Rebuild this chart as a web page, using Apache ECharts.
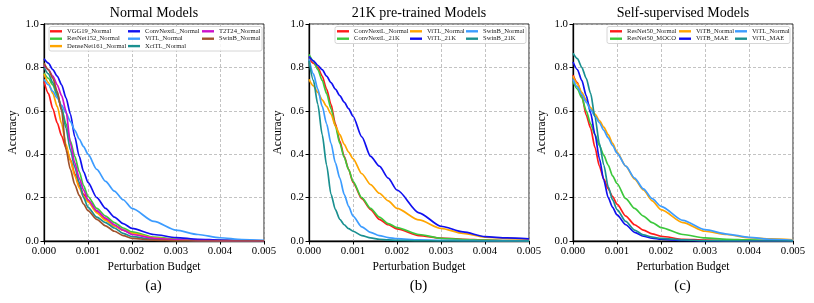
<!DOCTYPE html>
<html>
<head>
<meta charset="utf-8">
<script src="https://cdn.jsdelivr.net/npm/echarts@6/dist/echarts.min.js"></script>
<style>
html,body{margin:0;padding:0;background:#fff;}
#chart{width:814px;height:303px;}
</style>
</head>
<body>
<div id="chart"></div>
<script>
// ---- data ----
const budgets = [0, 0.0001, 0.0002, 0.0003, 0.0004, 0.0005, 0.0006, 0.0007, 0.0008, 0.0009, 0.001, 0.0012, 0.0014, 0.0016, 0.0018, 0.002, 0.0025, 0.003, 0.0035, 0.004, 0.0045, 0.005];
const xTicks = [0, 0.001, 0.002, 0.003, 0.004, 0.005];
const yTicks = [0, 0.2, 0.4, 0.6, 0.8, 1.0];
const panelTitles = ['Normal Models', '21K pre-trained Models', 'Self-supervised Models'];
const panelTags = ['(a)', '(b)', '(c)'];

// (a) Normal Models
const vgg19Normal      = [0.735,0.68,0.61,0.545,0.485,0.43,0.375,0.31,0.255,0.215,0.185,0.135,0.10,0.07,0.05,0.035,0.015,0.007,0.003,0.002,0.001,0.0];
const resnet152Normal  = [0.775,0.75,0.72,0.67,0.61,0.54,0.46,0.39,0.32,0.255,0.205,0.15,0.115,0.085,0.06,0.042,0.018,0.008,0.004,0.002,0.001,0.0];
const densenet161Normal= [0.77,0.73,0.68,0.62,0.54,0.445,0.37,0.30,0.245,0.205,0.18,0.13,0.095,0.07,0.05,0.035,0.014,0.006,0.003,0.001,0.0,0.0];
const convnextlNormalA = [0.84,0.82,0.79,0.76,0.72,0.66,0.585,0.48,0.39,0.32,0.27,0.2,0.15,0.11,0.08,0.058,0.03,0.016,0.008,0.004,0.002,0.001];
const vitlNormalA      = [0.745,0.72,0.69,0.66,0.625,0.59,0.55,0.51,0.47,0.435,0.40,0.33,0.275,0.23,0.19,0.15,0.09,0.05,0.03,0.015,0.007,0.003];
const xcitlNormal      = [0.80,0.77,0.73,0.68,0.61,0.52,0.42,0.34,0.27,0.2,0.155,0.11,0.085,0.06,0.035,0.02,0.007,0.003,0.001,0.0,0.0,0.0];
const t2t24Normal      = [0.81,0.79,0.76,0.72,0.67,0.60,0.45,0.36,0.29,0.235,0.19,0.14,0.105,0.075,0.05,0.03,0.012,0.005,0.002,0.001,0.0,0.0];
const swinbNormalA     = [0.82,0.79,0.75,0.69,0.60,0.42,0.33,0.26,0.21,0.17,0.14,0.1,0.07,0.045,0.025,0.012,0.004,0.001,0.0,0.0,0.0,0.0];

// (b) 21K pre-trained Models
const convnextlNormalB = [0.84,0.82,0.80,0.76,0.70,0.63,0.54,0.46,0.39,0.33,0.27,0.195,0.145,0.10,0.075,0.056,0.025,0.013,0.008,0.004,0.002,0.001];
const convnextl21k     = [0.86,0.83,0.79,0.74,0.68,0.61,0.53,0.45,0.385,0.33,0.275,0.2,0.15,0.11,0.08,0.062,0.03,0.012,0.007,0.004,0.002,0.001];
const vitlNormalB      = [0.745,0.715,0.685,0.65,0.62,0.585,0.53,0.49,0.445,0.41,0.38,0.31,0.26,0.22,0.185,0.15,0.097,0.058,0.035,0.018,0.012,0.008];
const vitl21k          = [0.85,0.83,0.81,0.79,0.76,0.73,0.70,0.67,0.64,0.61,0.575,0.48,0.39,0.345,0.29,0.235,0.13,0.068,0.042,0.02,0.014,0.01];
const swinbNormalB     = [0.84,0.77,0.70,0.62,0.54,0.45,0.36,0.29,0.215,0.16,0.115,0.065,0.04,0.025,0.016,0.011,0.005,0.003,0.002,0.001,0.001,0.0];
const swinb21k         = [0.83,0.74,0.63,0.49,0.35,0.215,0.145,0.10,0.075,0.057,0.045,0.025,0.014,0.008,0.005,0.003,0.001,0.0,0.0,0.0,0.0,0.0];

// (c) Self-supervised Models
const resnet50Normal   = [0.765,0.73,0.67,0.58,0.52,0.43,0.345,0.285,0.24,0.205,0.17,0.115,0.075,0.05,0.033,0.022,0.008,0.004,0.002,0.001,0.0,0.0];
const resnet50Moco     = [0.735,0.70,0.66,0.60,0.54,0.49,0.44,0.395,0.35,0.30,0.265,0.195,0.15,0.115,0.085,0.062,0.03,0.014,0.008,0.005,0.003,0.002];
const vitbNormal       = [0.76,0.725,0.685,0.65,0.615,0.585,0.555,0.525,0.49,0.45,0.41,0.345,0.285,0.235,0.185,0.145,0.085,0.045,0.03,0.015,0.01,0.005];
const vitbMae          = [0.825,0.79,0.74,0.67,0.59,0.49,0.38,0.28,0.2,0.155,0.12,0.075,0.04,0.022,0.013,0.008,0.003,0.001,0.0,0.0,0.0,0.0];
const vitlNormalC      = [0.745,0.71,0.675,0.64,0.605,0.575,0.545,0.51,0.475,0.44,0.405,0.345,0.29,0.24,0.195,0.16,0.095,0.052,0.032,0.017,0.008,0.003];
const vitlMae          = [0.865,0.84,0.80,0.75,0.68,0.57,0.45,0.35,0.25,0.19,0.145,0.09,0.05,0.028,0.018,0.012,0.005,0.002,0.001,0.0,0.0,0.0];

// ---- colours ----
const C = {
  red:'#ff1a1a', green:'#3cc83c', orange:'#ffa500', blue:'#1010f0',
  lblue:'#3c9cff', teal:'#1a9090', magenta:'#cc10cc', brown:'#a0522d'
};

const panels = [
  { series: [
      ['VGG19_Normal', vgg19Normal, C.red],
      ['ResNet152_Normal', resnet152Normal, C.green],
      ['DenseNet161_Normal', densenet161Normal, C.orange],
      ['ConvNextL_Normal', convnextlNormalA, C.blue],
      ['ViTL_Normal', vitlNormalA, C.lblue],
      ['XciTL_Normal', xcitlNormal, C.teal],
      ['T2T24_Normal', t2t24Normal, C.magenta],
      ['SwinB_Normal', swinbNormalA, C.brown]
    ],
    cols: [[0,1,2],[3,4,5],[6,7]], colLeft:[50,128,202], box:[49,26.5,213,24.5] },
  { series: [
      ['ConvNextL_Normal', convnextlNormalB, C.red],
      ['ConvNextL_21K', convnextl21k, C.green],
      ['ViTL_Normal', vitlNormalB, C.orange],
      ['ViTL_21K', vitl21k, C.blue],
      ['SwinB_Normal', swinbNormalB, C.lblue],
      ['SwinB_21K', swinb21k, C.teal]
    ],
    cols: [[0,1],[2,3],[4,5]], colLeft:[337,410,466], box:[335,26.5,191,17] },
  { series: [
      ['ResNet50_Normal', resnet50Normal, C.red],
      ['ResNet50_MOCO', resnet50Moco, C.green],
      ['ViTB_Normal', vitbNormal, C.orange],
      ['ViTB_MAE', vitbMae, C.blue],
      ['ViTL_Normal', vitlNormalC, C.lblue],
      ['ViTL_MAE', vitlMae, C.teal]
    ],
    cols: [[0,1],[2,3],[4,5]], colLeft:[610,679,735], box:[607,26.5,183,17] }
];

const FONT = 'Liberation Serif';
const gridLefts = [44, 309, 573];
const GRID_TOP = 24, GRID_W = 220, GRID_H = 217;

const option = {
  backgroundColor:'#fff',
  animation:false,
  grid: [], xAxis: [], yAxis: [], series: [], legend: [], graphic: []
};

panels.forEach((p, i) => {
  option.grid.push({left:gridLefts[i], top:GRID_TOP, width:GRID_W, height:GRID_H,
    show:true, borderColor:'#222', borderWidth:1, backgroundColor:'transparent'});
  option.xAxis.push({
    type:'value', gridIndex:i, min:xTicks[0], max:xTicks[xTicks.length-1], interval:xTicks[1]-xTicks[0],
    name:'Perturbation Budget', nameLocation:'middle', nameGap:20,
    nameTextStyle:{fontFamily:FONT, fontSize:11.5, color:'#000'},
    axisLine:{show:true, onZero:false, lineStyle:{color:'#000', width:1.3}},
    axisTick:{show:true, inside:false, length:3.5, lineStyle:{color:'#000', width:1}},
    axisLabel:{show:true, showMinLabel:true, showMaxLabel:true, margin:4.5, fontFamily:FONT, fontSize:10.8, color:'#000',
      formatter:v => v.toFixed(3)},
    splitLine:{show:true, lineStyle:{color:'#b4b4b4', type:[3,2], width:0.8}}
  });
  option.yAxis.push({
    type:'value', gridIndex:i, min:yTicks[0], max:yTicks[yTicks.length-1], interval:yTicks[1]-yTicks[0],
    name:'Accuracy', nameLocation:'middle', nameGap:25, nameRotate:90,
    nameTextStyle:{fontFamily:FONT, fontSize:11.5, color:'#000'},
    axisLine:{show:true, onZero:false, lineStyle:{color:'#000', width:1.3}},
    axisTick:{show:true, inside:false, length:3.5, lineStyle:{color:'#000', width:1}},
    axisLabel:{show:true, margin:5, fontFamily:FONT, fontSize:10.8, color:'#000',
      formatter:v => v.toFixed(1)},
    splitLine:{show:true, lineStyle:{color:'#b4b4b4', type:[3,2], width:0.8}}
  });
  p.series.forEach(s => {
    option.series.push({
      type:'line', name:s[0], xAxisIndex:i, yAxisIndex:i,
      data: budgets.map((b, k) => [b, s[1][k]]),
      showSymbol:false, symbol:'none', smooth:0.25, smoothMonotone:'x',
      lineStyle:{color:s[2], width:1.7}, itemStyle:{color:s[2]}
    });
  });
  // legend frame
  option.graphic.push({type:'rect', z:5, shape:{x:p.box[0], y:p.box[1], width:p.box[2], height:p.box[3], r:2},
    style:{fill:'rgba(255,255,255,0.85)', stroke:'#cccccc', lineWidth:0.8}});
  p.cols.forEach((col, c) => {
    option.legend.push({
      orient:'vertical', left:p.colLeft[c], top:27.8, padding:0, itemGap:0.4,
      itemWidth:12, itemHeight:2.4, icon:'rect', selectedMode:false, z:10,
      textStyle:{fontFamily:FONT, fontSize:6.6, color:'#222', lineHeight:7},
      data: col.map(k => ({name:p.series[k][0], itemStyle:{color:p.series[k][2]}}))
    });
  });
  const cx = gridLefts[i] + GRID_W/2;
  option.graphic.push({type:'text', z:10, style:{text:panelTitles[i], x:cx, y:13, textAlign:'center', textVerticalAlign:'middle',
    font:'14px "Liberation Serif"', fill:'#000'}});
  option.graphic.push({type:'text', z:10, style:{text:panelTags[i], x:cx-0.5, y:286, textAlign:'center', textVerticalAlign:'middle',
    font:'15px "Liberation Serif"', fill:'#000'}});
});

const chart = echarts.init(document.getElementById('chart'), null, {renderer:'canvas'});
chart.setOption(option);
</script>
</body>
</html>
